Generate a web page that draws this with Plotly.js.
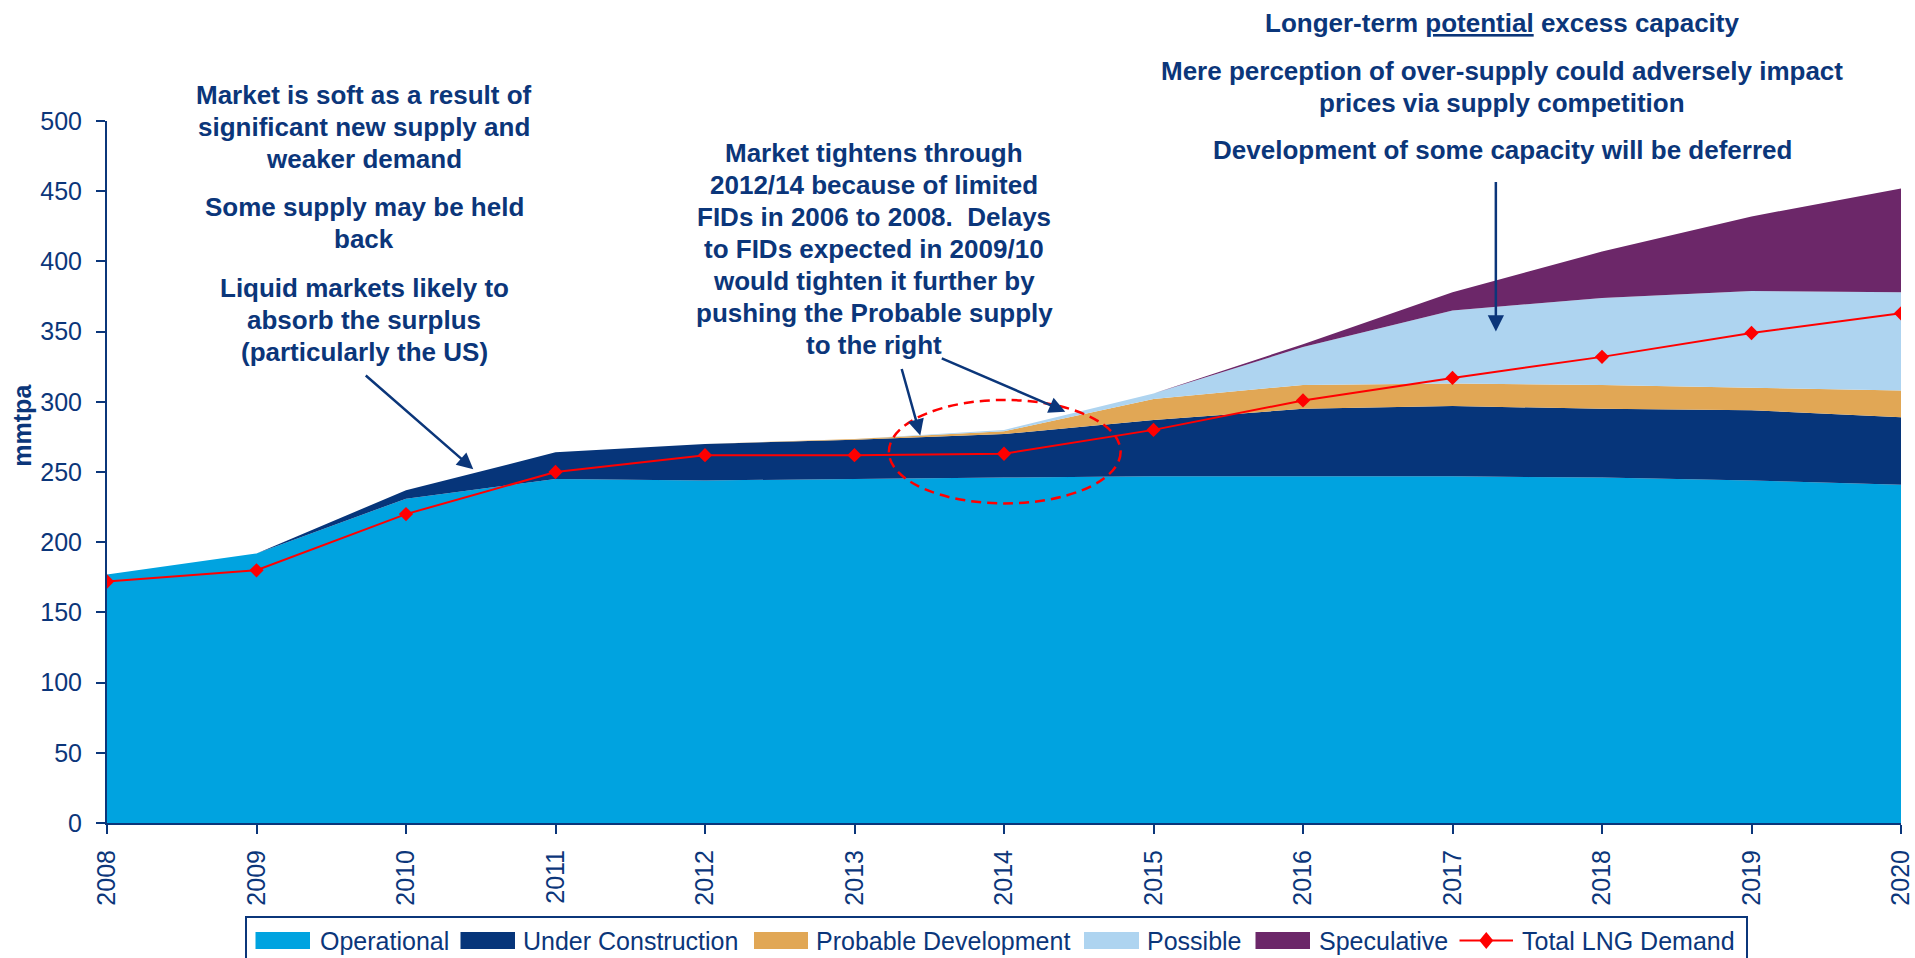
<!DOCTYPE html>
<html>
<head>
<meta charset="utf-8">
<script src="https://cdn.plot.ly/plotly-3.0.1.min.js"></script>
<style>
  html, body { margin: 0; padding: 0; background: #ffffff; }
  #chart { width: 1915px; height: 958px; }
</style>
</head>
<body>
<div id="chart"></div>
<script>
// ---------------- data ----------------
const years = [2008, 2009, 2010, 2011, 2012, 2013, 2014, 2015, 2016, 2017, 2018, 2019, 2020];
const yearLabels = ['2008', '2009', '2010', '2011', '2012', '2013', '2014', '2015', '2016', '2017', '2018', '2019', '2020'];
const operational          = [177, 192, 231, 245, 244, 245, 246, 247, 247, 247, 246, 244, 241];
const underConstruction    = [0, 0, 6, 19, 26, 28, 31, 40, 48, 50, 49, 50, 48];
const probableDevelopment  = [0, 0, 0, 0, 0, 0.5, 2, 15, 17, 16, 17, 16, 19];
const possible             = [0, 0, 0, 0, 0, 0, 1, 4, 27, 52, 62, 69, 70];
const speculative          = [0, 0, 0, 0, 0, 0, 0, 0, 2, 13, 33, 53, 74];
const totalLngDemand       = [172, 180, 220, 250, 262, 262, 263, 280, 301, 317, 332, 349, 363];
const yTicks = [0, 50, 100, 150, 200, 250, 300, 350, 400, 450, 500];
const seriesNames = ['Operational', 'Under Construction', 'Probable Development', 'Possible', 'Speculative', 'Total LNG Demand'];

// ---------------- styling ----------------
const NAVY = '#0B367A';
const FONT = 'Arial, "Liberation Sans", sans-serif';
const colors = ['#00A3E0', '#06357A', '#E1A755', '#AED4F0', '#6C2769', '#FF0000'];

// plot area in pixels
const L = 107, R = 1901, T = 121, B = 823;
const fx = p => (p - L) / (R - L);
const fy = p => (B - p) / (B - T);

const areaSeries = [operational, underConstruction, probableDevelopment, possible, speculative];
const traces = areaSeries.map((vals, i) => ({
  type: 'scatter',
  mode: 'none',
  x: years,
  y: vals,
  name: seriesNames[i],
  stackgroup: 'supply',
  fillcolor: colors[i],
  line: { width: 0, color: colors[i] },
  showlegend: false,
  hoverinfo: 'skip'
}));
traces.push({
  type: 'scatter',
  mode: 'lines+markers',
  x: years,
  y: totalLngDemand,
  name: seriesNames[5],
  line: { color: colors[5], width: 2 },
  marker: { symbol: 'diamond', size: 11, color: colors[5] },
  showlegend: false,
  hoverinfo: 'skip'
});

// ---------------- text annotations ----------------
const textBlocks = [
  { cx: 364, top: 95, gap: 32, lines: ['Market is soft as a result of', 'significant new supply and', 'weaker demand'] },
  { cx: 364, top: 207, gap: 32, lines: ['Some supply may be held', 'back'] },
  { cx: 364, top: 288, gap: 32, lines: ['Liquid markets likely to', 'absorb the surplus', '(particularly the US)'] },
  { cx: 874, top: 153, gap: 32, lines: ['Market tightens through', '2012/14 because of limited', 'FIDs in 2006 to 2008.  Delays', 'to FIDs expected in 2009/10', 'would tighten it further by', 'pushing the Probable supply', 'to the right'] },
  { cx: 1502, top: 23, gap: 32, lines: ['Longer-term <u>potential</u> excess capacity'] },
  { cx: 1502, top: 71, gap: 32, lines: ['Mere perception of over-supply could adversely impact', 'prices via supply competition'] },
  { cx: 1502, top: 150, gap: 32, lines: ['Development of some capacity will be deferred'] }
];

const annotations = [];
textBlocks.forEach(b => {
  b.lines.forEach((t, i) => {
    annotations.push({
      xref: 'paper', yref: 'paper',
      x: fx(b.cx), y: fy(b.top + i * b.gap),
      xanchor: 'center', yanchor: 'middle',
      text: '<b>' + t.replace(/  /g, '&nbsp; ') + '</b>',
      showarrow: false,
      font: { family: FONT, size: 26, color: NAVY }
    });
  });
});

// arrows (tip in data coords, tail offset in px)
const arrows = [
  { x: 2010.45, y: 252, ax: -109, ay: -95 },
  { x: 2013.44, y: 276, ax: -19, ay: -68 },
  { x: 2014.41, y: 293, ax: -125, ay: -54 },
  { x: 2017.29, y: 350, ax: 0, ay: -151 }
];
arrows.forEach(a => {
  annotations.push({
    xref: 'x', yref: 'y', x: a.x, y: a.y,
    axref: 'pixel', ayref: 'pixel', ax: a.ax, ay: a.ay,
    text: '', showarrow: true,
    arrowhead: 2, arrowsize: 1.3, arrowwidth: 2.5, arrowcolor: NAVY
  });
});

// y axis title
annotations.push({
  xref: 'paper', yref: 'y', x: fx(22), y: 283,
  xanchor: 'center', yanchor: 'middle',
  text: '<b>mmtpa</b>', textangle: -90, showarrow: false,
  font: { family: FONT, size: 25, color: NAVY }
});

// ---------------- legend (drawn manually) ----------------
const shapes = [];
shapes.push({
  type: 'circle', xref: 'x', yref: 'y',
  x0: 2013.23, x1: 2014.78, y0: 227.6, y1: 301.3,
  line: { color: '#FF0000', width: 2.5, dash: '10px,6px' }
});

const legTop = 917, legBottom = 995, legLeft = 246, legRight = 1747;
shapes.push({
  type: 'rect', xref: 'paper', yref: 'paper',
  x0: fx(legLeft), x1: fx(legRight), y0: fy(legBottom), y1: fy(legTop),
  line: { color: NAVY, width: 2 }, fillcolor: 'rgba(0,0,0,0)'
});
const legY = 940.5;
const swatches = [
  { x0: 255.5, x1: 310, tx: 318 },
  { x0: 460.5, x1: 515, tx: 521 },
  { x0: 754, x1: 808, tx: 814 },
  { x0: 1084, x1: 1139, tx: 1145 },
  { x0: 1255.5, x1: 1310, tx: 1316.5 }
];
swatches.forEach((s, i) => {
  shapes.push({
    type: 'rect', xref: 'paper', yref: 'paper',
    x0: fx(s.x0), x1: fx(s.x1), y0: fy(949), y1: fy(932),
    line: { width: 0 }, fillcolor: colors[i]
  });
  annotations.push({
    xref: 'paper', yref: 'paper', x: fx(s.tx), y: fy(legY),
    xanchor: 'left', yanchor: 'middle', text: seriesNames[i], showarrow: false,
    font: { family: FONT, size: 25, color: NAVY }
  });
});
// demand legend symbol
const dl0 = 1459.5, dl1 = 1513, dc = (dl0 + dl1) / 2;
shapes.push({
  type: 'line', xref: 'paper', yref: 'paper',
  x0: fx(dl0), x1: fx(dl1), y0: fy(legY), y1: fy(legY),
  line: { color: colors[5], width: 2 }
});
shapes.push({
  type: 'path', xref: 'paper', yref: 'paper',
  path: 'M' + fx(dc - 7) + ',' + fy(legY) + ' L' + fx(dc) + ',' + fy(legY - 8.5) +
        ' L' + fx(dc + 7) + ',' + fy(legY) + ' L' + fx(dc) + ',' + fy(legY + 8.5) + ' Z',
  line: { width: 0 }, fillcolor: colors[5]
});
annotations.push({
  xref: 'paper', yref: 'paper', x: fx(1520), y: fy(legY),
  xanchor: 'left', yanchor: 'middle', text: seriesNames[5], showarrow: false,
  font: { family: FONT, size: 25, color: NAVY }
});

// ---------------- layout ----------------
const layout = {
  width: 1915, height: 958,
  margin: { l: L, r: 1915 - R, t: T, b: 958 - B, pad: 0 },
  paper_bgcolor: '#ffffff', plot_bgcolor: '#ffffff',
  font: { family: FONT, color: NAVY },
  showlegend: false,
  hovermode: false,
  xaxis: {
    range: [2008, 2020], tickmode: 'array', tickvals: years, ticktext: yearLabels,
    tickangle: -90, ticks: 'outside', ticklen: 9, tickwidth: 2, tickcolor: NAVY,
    showline: true, linecolor: NAVY, linewidth: 2, showgrid: false, zeroline: false,
    tickfont: { family: FONT, size: 25, color: NAVY }, ticklabelstandoff: 6
  },
  yaxis: {
    range: [0, 500], tickmode: 'array', tickvals: yTicks,
    ticks: 'outside', ticklen: 9, tickwidth: 2, tickcolor: NAVY,
    showline: true, linecolor: NAVY, linewidth: 2, showgrid: false, zeroline: false,
    tickfont: { family: FONT, size: 25, color: NAVY }, ticklabelstandoff: 9
  },
  annotations: annotations,
  shapes: shapes
};

Plotly.newPlot('chart', traces, layout, { staticPlot: true, displayModeBar: false });
</script>
</body>
</html>
